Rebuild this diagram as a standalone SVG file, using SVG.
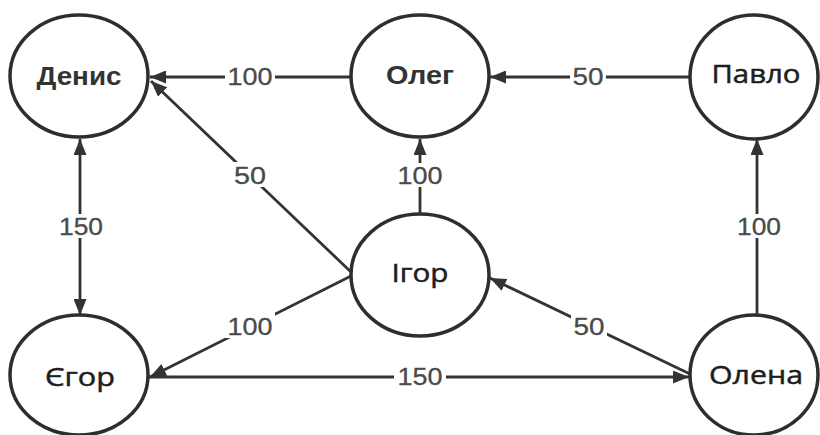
<svg xmlns="http://www.w3.org/2000/svg" width="820" height="435" viewBox="0 0 820 435">
<style>
.node ellipse{fill:#fff;stroke:#2e2e2e;stroke-width:3.5}
.name{font-family:"Open Sans","Liberation Sans",sans-serif;font-size:26px;fill:#1e1e1e;stroke:#1e1e1e;stroke-width:0.5;text-anchor:middle}
.bold{font-family:"Liberation Sans",Arial,sans-serif;font-weight:bold;font-size:25px;fill:#333;text-anchor:middle}
.edge{stroke:#333;stroke-width:2.8;fill:none}
.lbl rect{fill:#fff}
.lbl text{font-family:"Liberation Sans",Arial,sans-serif;font-size:24px;fill:#4a4a4a;stroke:#4a4a4a;stroke-width:0.3;text-anchor:middle}
</style>
<defs>
<marker id="arr" markerUnits="userSpaceOnUse" markerWidth="17" markerHeight="13" refX="16" refY="6.5" orient="auto-start-reverse">
<path d="M0,0 L16,6.5 L0,13 z" fill="#333"/>
</marker>
</defs>
<rect width="820" height="435" fill="#fff"/>
<g id="connectors">
<path class="edge" d="M351,77 L150,77" marker-end="url(#arr)"/>
<path class="edge" d="M690,77 L490,77" marker-end="url(#arr)"/>
<path class="edge" d="M351,272 L151,81" marker-end="url(#arr)"/>
<path class="edge" d="M420,214 L420,139" marker-end="url(#arr)"/>
<path class="edge" d="M80,139 L80,315" marker-start="url(#arr)" marker-end="url(#arr)"/>
<path class="edge" d="M351,276 L150,377" marker-end="url(#arr)"/>
<path class="edge" d="M149,377 L689,377" marker-end="url(#arr)"/>
<path class="edge" d="M690,374 L490,278" marker-end="url(#arr)"/>
<path class="edge" d="M757,315 L757,139" marker-end="url(#arr)"/>
<g class="lbl"><rect x="225" y="66" width="50" height="22"/><text x="250" y="85" textLength="45" lengthAdjust="spacingAndGlyphs">100</text></g>
<g class="lbl"><rect x="570" y="66" width="36" height="22"/><text x="588" y="85" textLength="31" lengthAdjust="spacingAndGlyphs">50</text></g>
<g class="lbl"><rect x="231" y="162" width="38" height="25"/><text x="250" y="184" textLength="32" lengthAdjust="spacingAndGlyphs">50</text></g>
<g class="lbl"><rect x="395" y="163" width="50" height="24"/><text x="420" y="184" textLength="45" lengthAdjust="spacingAndGlyphs">100</text></g>
<g class="lbl"><rect x="56" y="214" width="50" height="24"/><text x="81" y="235" textLength="44" lengthAdjust="spacingAndGlyphs">150</text></g>
<g class="lbl"><rect x="734" y="214" width="50" height="24"/><text x="759" y="235" textLength="44" lengthAdjust="spacingAndGlyphs">100</text></g>
<g class="lbl"><rect x="225" y="313" width="50" height="25"/><text x="250" y="335" textLength="45" lengthAdjust="spacingAndGlyphs">100</text></g>
<g class="lbl"><rect x="571" y="313" width="36" height="25"/><text x="589" y="335" textLength="31" lengthAdjust="spacingAndGlyphs">50</text></g>
<g class="lbl"><rect x="394" y="365" width="52" height="23"/><text x="420" y="385" textLength="45" lengthAdjust="spacingAndGlyphs">150</text></g>
</g>
<g id="node-denys" class="node"><ellipse cx="79" cy="76" rx="69" ry="61"/><text class="bold" x="79" y="85" textLength="85" lengthAdjust="spacingAndGlyphs">Денис</text></g>
<g id="node-oleh" class="node"><ellipse cx="420" cy="76" rx="69" ry="61"/><text class="bold" x="420" y="84" textLength="68" lengthAdjust="spacingAndGlyphs">Олег</text></g>
<g id="node-pavlo" class="node"><ellipse cx="754" cy="77" rx="64" ry="62"/><text class="name" x="756" y="83" textLength="89" lengthAdjust="spacingAndGlyphs">Павло</text></g>
<g id="node-ihor" class="node"><ellipse cx="420" cy="275" rx="69" ry="61"/><text class="name" x="420" y="282" textLength="57" lengthAdjust="spacingAndGlyphs">Ігор</text></g>
<g id="node-yehor" class="node"><ellipse cx="79" cy="375" rx="69" ry="60"/><text class="name" x="80" y="386" textLength="70" lengthAdjust="spacingAndGlyphs">Єгор</text></g>
<g id="node-olena" class="node"><ellipse cx="754" cy="375" rx="64" ry="60"/><text class="name" x="756" y="384" textLength="94" lengthAdjust="spacingAndGlyphs">Олена</text></g>
</svg>
